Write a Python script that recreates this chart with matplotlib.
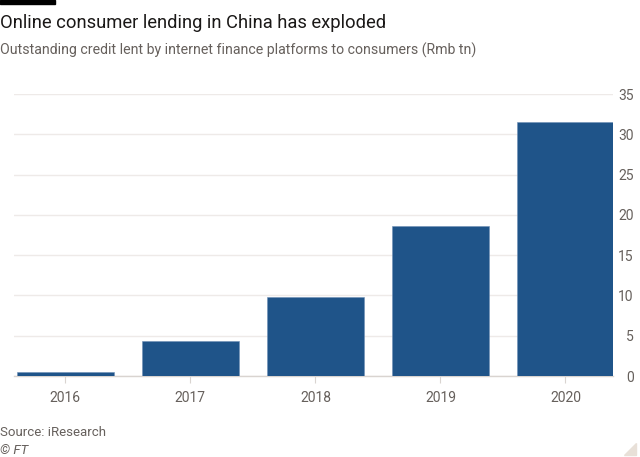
import matplotlib
matplotlib.use("Agg")
import matplotlib.pyplot as plt
from matplotlib.patches import Rectangle, Polygon

years = ["2016", "2017", "2018", "2019", "2020"]
values = [0.5, 4.4, 9.8, 18.6, 31.5]
yticks = [0, 5, 10, 15, 20, 25, 30, 35]

W, H = 640, 457
fig = plt.figure(figsize=(W / 100, H / 100), dpi=100, facecolor="white")
plt.rcParams["font.family"] = ["Roboto", "DejaVu Sans"]

# plot area in pixels: x 14..613, y 94..376
ax = fig.add_axes([14 / W, 1 - 376 / H, (613 - 14) / W, (376 - 94) / H])
ax.set_facecolor("white")
x = list(range(len(years)))
ax.bar(x, values, width=0.775, color="#1f5489", edgecolor="#6f8fb5", linewidth=0.4, zorder=3)
ax.set_xlim(-0.41, 4.38)
ax.set_ylim(0, 35)
ax.set_yticks(yticks)
ax.set_xticks(x)
ax.set_xticklabels(years)
ax.yaxis.tick_right()
ax.grid(axis="y", color="#eeeae8", linewidth=1, zorder=0)
for s in ["top", "left", "right"]:
    ax.spines[s].set_visible(False)
ax.spines["bottom"].set_color("#d9d4d0")
ax.spines["bottom"].set_linewidth(1)
ax.tick_params(axis="y", length=0, pad=15, labelsize=10, labelcolor="#66605c")
for lbl in ax.get_yticklabels():
    lbl.set_horizontalalignment("right")
ax.tick_params(axis="x", length=5, width=0.8, color="#d9d4d0", pad=6, labelsize=10, labelcolor="#66605c")

# header bar
fig.add_artist(Rectangle((0, 1 - 4 / H), 55 / W, 4 / H, transform=fig.transFigure, color="black"))
fig.text(0 / W, 1 - 23 / H, "Online consumer lending in China has exploded", fontsize=13.2,
         color="#1a1817", va="center", ha="left")
fig.text(0 / W, 1 - 50 / H, "Outstanding credit lent by internet finance platforms to consumers (Rmb tn)",
         fontsize=10.2, color="#66605c", va="center", ha="left")
fig.text(0 / W, 1 - 433 / H, "Source: iResearch", fontsize=9.5, color="#66605c", va="center", ha="left")
fig.text(0 / W, 1 - 450 / H, "© FT", fontsize=9.5, color="#66605c", va="center", ha="left", style="italic")
fig.add_artist(Polygon([(636 / W, 1 - 443 / H), (636 / W, 1 - 455 / H), (624 / W, 1 - 455 / H)],
                       transform=fig.transFigure, color="#e8e0d8"))

fig.savefig("out.png", dpi=100, facecolor="white")
